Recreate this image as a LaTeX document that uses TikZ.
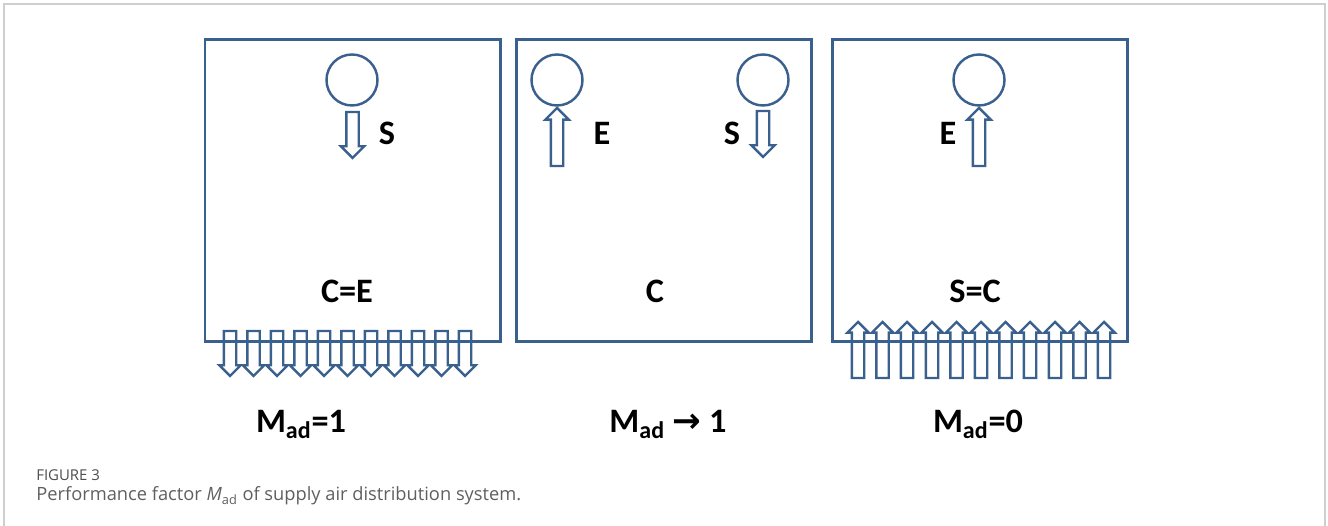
\documentclass[tikz,border=0pt]{standalone}
\usepackage{fontspec}
\setmainfont{Carlito}
\newfontfamily\capfont{Open Sans}
\newfontfamily\symfont{DejaVu Sans}
\usetikzlibrary{shapes.arrows}
\pgfdeclarelayer{edgelayer}
\pgfdeclarelayer{nodelayer}
\pgfsetlayers{edgelayer,nodelayer,main}
\definecolor{roomblue}{RGB}{58,96,142}
\definecolor{framegray}{RGB}{206,206,206}
\definecolor{capgray}{RGB}{95,95,95}
\tikzstyle{room}=[rectangle,draw=roomblue,line width=1.7pt,minimum width=5.90cm,minimum height=6.04cm,inner sep=0pt]
\tikzstyle{vent}=[circle,draw=roomblue,line width=1.4pt,minimum size=1.02cm,inner sep=0pt]
\tikzstyle{flow}=[single arrow,draw=roomblue,line width=1.4pt,inner xsep=0pt,inner ysep=0.10cm,single arrow head extend=0.11cm,minimum width=0pt,outer sep=0pt,anchor=tip]
\tikzstyle{supplyflow}=[flow,rotate=-90,minimum height=0.92cm]
\tikzstyle{exhaustflow}=[flow,rotate=90,minimum height=1.16cm]
\tikzstyle{dropflow}=[flow,rotate=-90,minimum height=0.90cm,single arrow head extend=0.09cm]
\tikzstyle{riseflow}=[flow,rotate=90,minimum height=1.12cm,single arrow head extend=0.09cm]
\tikzstyle{tag}=[font=\fontsize{19.5}{22}\selectfont\bfseries,anchor=base,inner sep=0pt]
\tikzstyle{caption}=[font=\capfont\fontsize{10.4}{12}\selectfont,text=capgray,anchor=base west,inner sep=0pt]

\begin{document}
\begin{tikzpicture}
	\useasboundingbox (0,0) rectangle (26.56,10.52);
	\begin{pgfonlayer}{edgelayer}
		\draw [framegray,line width=0.8pt] (0.08,0) -- (0.08,10.44) -- (26.50,10.44) -- (26.50,0);
	\end{pgfonlayer}
	\begin{pgfonlayer}{nodelayer}
		% rooms
		\node [style=room] (0) at (7.050,6.700) {};
		\node [style=room] (1) at (13.280,6.700) {};
		\node [style=room] (2) at (19.600,6.700) {};
		% outlets
		\node [style=vent] (3) at (7.040,8.920) {};
		\node [style=vent] (4) at (11.140,8.920) {};
		\node [style=vent] (5) at (15.260,8.920) {};
		\node [style=vent] (6) at (19.580,8.920) {};
		% top flows
		\node [style=supplyflow] (7) at (7.050,7.360) {};
		\node [style=exhaustflow] (8) at (11.140,8.360) {};
		\node [style=supplyflow] (9) at (15.260,7.380) {};
		\node [style=exhaustflow] (10) at (19.580,8.360) {};
		% left room, flows out of the floor
		\node [style=dropflow] (11) at (4.600,3.000) {};
		\node [style=dropflow] (12) at (5.070,3.000) {};
		\node [style=dropflow] (13) at (5.540,3.000) {};
		\node [style=dropflow] (14) at (6.010,3.000) {};
		\node [style=dropflow] (15) at (6.480,3.000) {};
		\node [style=dropflow] (16) at (6.950,3.000) {};
		\node [style=dropflow] (17) at (7.420,3.000) {};
		\node [style=dropflow] (18) at (7.890,3.000) {};
		\node [style=dropflow] (19) at (8.360,3.000) {};
		\node [style=dropflow] (20) at (8.830,3.000) {};
		\node [style=dropflow] (21) at (9.300,3.000) {};
		% right room, flows into the floor
		\node [style=riseflow] (22) at (17.160,4.080) {};
		\node [style=riseflow] (23) at (17.650,4.080) {};
		\node [style=riseflow] (24) at (18.140,4.080) {};
		\node [style=riseflow] (25) at (18.640,4.080) {};
		\node [style=riseflow] (26) at (19.130,4.080) {};
		\node [style=riseflow] (27) at (19.620,4.080) {};
		\node [style=riseflow] (28) at (20.110,4.080) {};
		\node [style=riseflow] (29) at (20.600,4.080) {};
		\node [style=riseflow] (30) at (21.100,4.080) {};
		\node [style=riseflow] (31) at (21.590,4.080) {};
		\node [style=riseflow] (32) at (22.080,4.080) {};
		% labels
		\node [style=tag] (33) at (7.740,7.620) {S};
		\node [style=tag] (34) at (12.040,7.620) {E};
		\node [style=tag] (35) at (14.640,7.620) {S};
		\node [style=tag] (36) at (18.960,7.620) {E};
		\node [style=tag] (37) at (6.940,4.460) {C=E};
		\node [style=tag] (38) at (13.100,4.460) {C};
		\node [style=tag] (39) at (19.500,4.460) {S=C};
		\node [style=tag] (40) at (6.020,1.860) {M\textsubscript{ad}=1};
		\node [style=tag] (41) at (13.360,1.860) {M\textsubscript{ad} {\symfont\bfseries →} 1};
		\node [style=tag] (42) at (19.560,1.860) {M\textsubscript{ad}=0};
		% caption
		\node [style=caption,font=\capfont\fontsize{8.5}{10}\selectfont,text=black!70] (43) at (0.720,0.900) {FIGURE 3};
		\node [style=caption] (44) at (0.720,0.500) {Performance factor \textit{M}\textsubscript{ad} of supply air distribution system.};
	\end{pgfonlayer}
\end{tikzpicture}
\end{document}
